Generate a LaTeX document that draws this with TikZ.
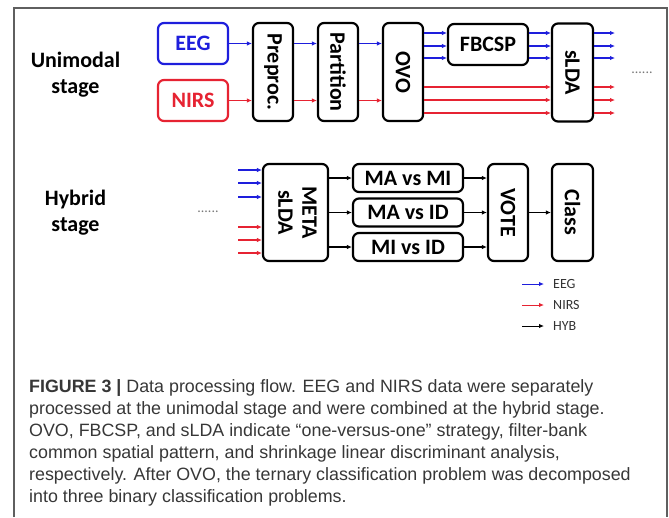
\documentclass[tikz,border=0pt]{standalone}
\usepackage{fontspec}
\setmainfont{Carlito}
\newfontfamily\capfont{Liberation Sans}
\usepackage{graphicx}
\usetikzlibrary{arrows.meta}
\definecolor{eegblue}{RGB}{30,30,220}
\definecolor{nirsred}{RGB}{230,35,50}
\definecolor{framegray}{RGB}{95,95,95}
\definecolor{captext}{RGB}{55,55,55}
\definecolor{dotgray}{RGB}{120,120,120}
\newcommand{\rtext}[1]{\rotatebox{-90}{#1}}
\newcommand{\rtwo}[2]{\rotatebox{-90}{\begin{tabular}{@{}c@{}}#1\\[-2pt]#2\end{tabular}}}
\begin{document}
\begin{tikzpicture}[x=1pt,y=-1pt,
  box/.style={draw=black, line width=2.2pt, rounded corners=6pt, inner sep=0pt,
    font=\fontsize{22}{26}\selectfont\bfseries},
  flow/.style={line width=1.3pt, -{Latex[length=5pt,width=4.5pt]}},
  blueflow/.style={flow, eegblue},
  redflow/.style={flow, nirsred},
  blackflow/.style={flow, black},
  stagelabel/.style={align=center, inner sep=0pt, font=\fontsize{22}{26}\selectfont\bfseries},
  legtext/.style={anchor=west, inner sep=0pt, font=\fontsize{14}{16}\selectfont, text=black!80},
  dots/.style={inner sep=0pt, font=\fontsize{14}{16}\selectfont, text=dotgray},
  capline/.style={anchor=base west, inner sep=0pt, text=captext,
    font=\capfont\fontsize{17.85}{22}\selectfont}
]
\useasboundingbox (0,0) rectangle (669,517);
% frame
\draw[framegray, line width=1.4pt] (14,517) -- (14,8) -- (667,8) -- (667,517);

% stage labels
\node[stagelabel] (unilab) at (75.5,75) {Unimodal\\stage};
\node[stagelabel] (hyblab) at (75.5,213) {Hybrid\\stage};

% unimodal stage
\node[box, draw=eegblue, text=eegblue, minimum width=70pt, minimum height=41pt] (eeg) at (193,43.5) {EEG};
\node[box, draw=nirsred, text=nirsred, minimum width=70pt, minimum height=41pt] (nirs) at (193,100.5) {NIRS};
\node[box, minimum width=40pt, minimum height=98pt] (pre) at (273,72) {\rtext{Preproc.}};
\node[box, minimum width=40pt, minimum height=98pt] (part) at (338,72) {\rtext{Partition}};
\node[box, minimum width=40pt, minimum height=98pt] (ovo) at (403,72) {\rtext{OVO}};
\node[box, minimum width=80pt, minimum height=41pt] (fbcsp) at (488,44.5) {FBCSP};
\node[box, minimum width=41pt, minimum height=98pt] (slda) at (572.5,72.5) {\rtext{sLDA}};
\node[dots] (dots1) at (642,73) {......};

\draw[blueflow] (eeg.east) -- (eeg.east -| pre.west);
\draw[redflow] (nirs.east) -- (nirs.east -| pre.west);
\draw[blueflow] (pre.east |- eeg.east) -- (part.west |- eeg.east);
\draw[redflow] (pre.east |- nirs.east) -- (part.west |- nirs.east);
\draw[blueflow] (part.east |- eeg.east) -- (ovo.west |- eeg.east);
\draw[redflow] (part.east |- nirs.east) -- (ovo.west |- nirs.east);
\foreach \yy in {33,46,58}{
  \draw[blueflow] (ovo.east |- 0,\yy) -- (fbcsp.west |- 0,\yy);
  \draw[blueflow] (fbcsp.east |- 0,\yy) -- (slda.west |- 0,\yy);
  \coordinate (bout\yy) at (615,\yy);
  \draw[blueflow] (slda.east |- 0,\yy) -- (bout\yy);
}
\foreach \yy in {87,100,113}{
  \draw[redflow] (ovo.east |- 0,\yy) -- (slda.west |- 0,\yy);
  \coordinate (rout\yy) at (615,\yy);
  \draw[redflow] (slda.east |- 0,\yy) -- (rout\yy);
}

% hybrid stage
\node[dots] (dots2) at (208,212) {......};
\node[box, minimum width=65pt, minimum height=97pt] (meta) at (295.5,212.5) {\rtwo{META}{sLDA}};
\node[box, minimum width=110pt, minimum height=28pt] (mami) at (408,178) {MA vs MI};
\node[box, minimum width=110pt, minimum height=28pt] (maid) at (408,212.5) {MA vs ID};
\node[box, minimum width=110pt, minimum height=28pt] (miid) at (408,247) {MI vs ID};
\node[box, minimum width=40pt, minimum height=97pt] (vote) at (508,212.5) {\rtext{VOTE}};
\node[box, minimum width=41pt, minimum height=97pt] (class) at (572.5,212.5) {\rtext{Class}};

\foreach \yy in {170,183,197}{
  \coordinate (bin\yy) at (238,\yy);
  \draw[blueflow] (bin\yy) -- (meta.west |- 0,\yy);
}
\foreach \yy in {227,240,253}{
  \coordinate (rin\yy) at (238,\yy);
  \draw[redflow] (rin\yy) -- (meta.west |- 0,\yy);
}
\foreach \n in {mami,maid,miid}{
  \draw[blackflow] (meta.east |- \n.west) -- (\n.west);
  \draw[blackflow] (\n.east) -- (vote.west |- \n.east);
}
\draw[blackflow] (vote.east) -- (class.west);

% legend
\node[legtext] (legeeg) at (553,284) {EEG};
\node[legtext] (legnirs) at (553,305) {NIRS};
\node[legtext] (leghyb) at (553,326) {HYB};
\coordinate (legeegs) at (522,284);
\coordinate (legnirss) at (522,305);
\coordinate (leghybs) at (522,326);
\draw[blueflow, line width=1pt, shorten >=9pt] (legeegs) -- (legeeg.west);
\draw[redflow, line width=1pt, shorten >=9pt] (legnirss) -- (legnirs.west);
\draw[blackflow, line width=1pt, shorten >=9pt] (leghybs) -- (leghyb.west);

% caption
\node[capline] (cap1) at (29,392) {\textbf{FIGURE 3 |} Data processing flow. EEG and NIRS data were separately};
\node[capline] (cap2) at (29,414) {processed at the unimodal stage and were combined at the hybrid stage.};
\node[capline] (cap3) at (29,436) {OVO, FBCSP, and sLDA indicate “one-versus-one” strategy, filter-bank};
\node[capline] (cap4) at (29,458) {common spatial pattern, and shrinkage linear discriminant analysis,};
\node[capline] (cap5) at (29,480) {respectively. After OVO, the ternary classification problem was decomposed};
\node[capline] (cap6) at (29,502) {into three binary classification problems.};
\end{tikzpicture}
\end{document}
